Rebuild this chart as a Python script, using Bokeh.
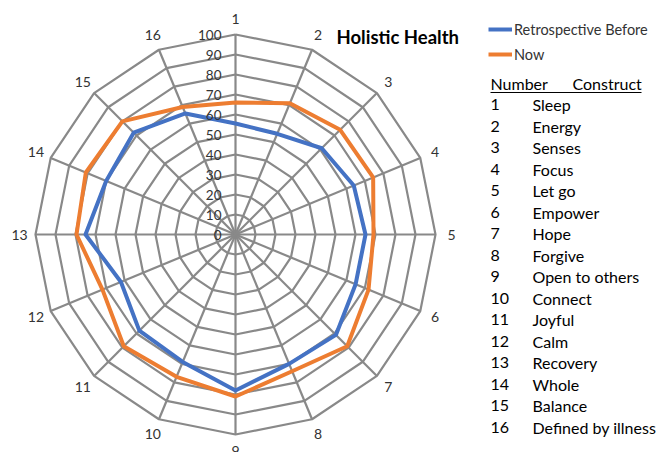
import numpy as np
from bokeh.plotting import figure
from bokeh.models import Legend, LegendItem
from bokeh.core.properties import value
from bokeh.embed import file_html
from bokeh.resources import INLINE

# ---- data ----
axis_labels = [str(i) for i in range(1, 17)]
before = [55.5, 54.5, 61, 64, 65, 65, 71, 70, 78, 69, 68, 62, 75, 70, 72, 65.5]
now = [66, 71, 74, 74.5, 69, 72, 79, 74, 81, 77, 79, 72, 79.5, 81, 80, 69]
ring_values = [0, 10, 20, 30, 40, 50, 60, 70, 80, 90, 100]
constructs = ["Sleep", "Energy", "Senses", "Focus", "Let go", "Empower", "Hope",
              "Forgive", "Open to others", "Connect", "Joyful", "Calm", "Recovery",
              "Whole", "Balance", "Defined by illness"]
title = "Holistic Health"
series_names = ["Retrospective Before", "Now"]

BLUE = "#4472C4"
ORANGE = "#ED7D31"
GRID = "#898989"
FONT = "Lato"

W, H = 658, 452
OFF = 0
# data units: 1 unit = 2 px, centre of radar at picture (235, 234)
def X(px):
    return (px - OFF) / 2 - (235 - OFF) / 2
def Y(py):
    return (234 - OFF) / 2 - (py - OFF) / 2

p = figure(width=W, height=H, output_backend="svg", toolbar_location=None,
           x_range=(X(OFF), X(OFF + W)), y_range=(Y(OFF + H), Y(OFF)),
           min_border=0)
p.axis.visible = False
p.grid.visible = False
p.outline_line_color = None

n = len(axis_labels)
ang = np.pi / 2 - 2 * np.pi * np.arange(n) / n

# rings
ring_xs, ring_ys = [], []
for r in ring_values[1:]:
    ring_xs.append(list(r * np.cos(ang)) + [r * np.cos(ang[0])])
    ring_ys.append(list(r * np.sin(ang)) + [r * np.sin(ang[0])])
p.multi_line(ring_xs, ring_ys, line_color=GRID, line_width=2.2)
# spokes
rmax = ring_values[-1]
p.multi_line([[0, rmax * np.cos(a)] for a in ang], [[0, rmax * np.sin(a)] for a in ang],
             line_color=GRID, line_width=2.2)

# series
def closed(vals):
    v = np.array(vals)
    xs = v * np.cos(ang)
    ys = v * np.sin(ang)
    return list(xs) + [xs[0]], list(ys) + [ys[0]]

bx, by = closed(before)
nx, ny = closed(now)
r_before = p.line(bx, by, line_color=BLUE, line_width=4, line_join="round")
r_now = p.line(nx, ny, line_color=ORANGE, line_width=4, line_join="round")

# radial tick labels
p.text(x=[-7] * len(ring_values), y=ring_values, text=[str(v) for v in ring_values],
       text_font=value(FONT), text_font_size="13.5px", text_color="#333333",
       text_align="right", text_baseline="middle")

# axis category labels
lr = 108
p.text(x=list(lr * np.cos(ang)), y=list(lr * np.sin(ang)), text=axis_labels,
       text_font=value(FONT), text_font_size="14px", text_color="#333333",
       text_align="center", text_baseline="middle")

# title
p.text(x=[X(336)], y=[Y(36)], text=[title], text_font=value(FONT),
       text_font_size="18.5px", text_font_style="bold", text_color="#000000",
       text_align="left", text_baseline="middle")

# legend
legend = Legend(items=[LegendItem(label=series_names[0], renderers=[r_before]),
                       LegendItem(label=series_names[1], renderers=[r_now])],
                location=(488 - OFF, H - (19 - OFF) - 45), orientation="vertical",
                glyph_width=24, glyph_height=20, label_height=20, spacing=5,
                padding=0, margin=0, label_standoff=2,
                label_text_font=FONT, label_text_font_size="14.5px",
                label_text_color="#333333",
                background_fill_alpha=0, border_line_alpha=0)
p.add_layout(legend)

# table
p.text(x=[X(490), X(572)], y=[Y(83), Y(83)], text=["Number", "Construct"],
       text_font=value(FONT), text_font_size="16px", text_color="#000000",
       text_align="left", text_baseline="middle")
p.segment(x0=[X(490)], y0=[Y(92)], x1=[X(641)], y1=[Y(92)], line_color="#000000", line_width=1)
row_y = [Y(104 + 21.5 * i) for i in range(len(constructs))]
p.text(x=[X(490)] * len(constructs), y=row_y, text=axis_labels,
       text_font=value(FONT), text_font_size="16px", text_color="#000000",
       text_align="left", text_baseline="middle")
p.text(x=[X(532)] * len(constructs), y=row_y, text=constructs,
       text_font=value(FONT), text_font_size="16px", text_color="#000000",
       text_align="left", text_baseline="middle")

open("out.html", "w").write(file_html(p, INLINE))
